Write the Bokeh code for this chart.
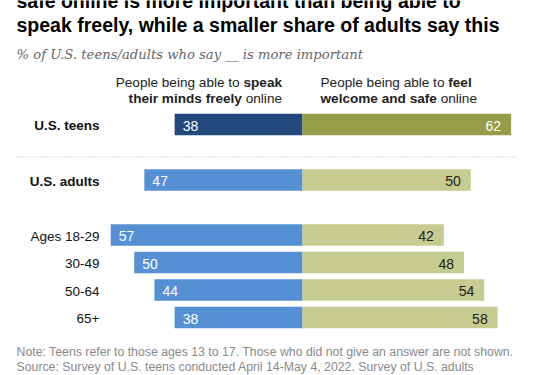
from bokeh.plotting import figure
from bokeh.models import Range1d, ColumnDataSource
from bokeh.core.properties import value
from bokeh.embed import file_html
from bokeh.resources import INLINE

# ---------------- data ----------------
groups = ["U.S. teens", "U.S. adults", "Ages 18-29", "30-49", "50-64", "65+"]
speak_freely = [38, 47, 57, 50, 44, 38]
welcome_safe = [62, 50, 42, 48, 54, 58]

title_lines = ["safe online is more important than being able to",
               "speak freely, while a smaller share of adults say this"]
subtitle = "% of U.S. teens/adults who say __ is more important"
note_lines = ["Note: Teens refer to those ages 13 to 17. Those who did not give an answer are not shown.",
              "Source: Survey of U.S. teens conducted April 14-May 4, 2022. Survey of U.S. adults"]

# ---------------- layout ----------------
W, H = 546, 375
CX = 302.0          # pixel of the zero line
S = 3.365           # pixels per percentage point
row_y = [124, 179.5, 234.5, 262, 289.5, 317]
bar_h = 21.5
FONT = "Liberation Sans"

left_colors = ["#22497D"] + ["#5590D5"] * 5
right_colors = ["#959D48"] + ["#C6CB8F"] * 5
right_label_colors = ["white"] + ["#222222"] * 5


def px(X):
    return (X - CX) / S


REG = {' ': 278, 'P': 667, 'e': 556, 'o': 556, 'p': 556, 'l': 222, 'b': 556, 'i': 222,
       'n': 556, 'g': 556, 'a': 556, 't': 278, 's': 500, 'k': 500, 'f': 278, 'r': 333,
       'm': 833, 'd': 556, 'y': 500, 'w': 722, 'c': 500, 'h': 556}
BLD = {' ': 278, 's': 556, 'p': 611, 'e': 556, 'a': 556, 'k': 556, 't': 333, 'h': 611,
       'i': 278, 'r': 389, 'm': 889, 'n': 611, 'd': 611, 'f': 333, 'l': 278, 'y': 556,
       'w': 778, 'c': 556, 'o': 611}


def tw(s, size, bold=False):
    tab = BLD if bold else REG
    return sum(tab.get(ch, 556) for ch in s) / 1000.0 * size


p = figure(width=W, height=H, output_backend="svg", toolbar_location=None,
           x_range=Range1d(px(0), px(W)), y_range=Range1d(H, 0),
           min_border=0, min_border_left=0, min_border_right=0,
           min_border_top=0, min_border_bottom=0)
p.xaxis.visible = False
p.yaxis.visible = False
p.grid.visible = False
p.outline_line_color = None
p.background_fill_color = "white"
p.border_fill_color = "white"

src = ColumnDataSource(dict(
    y=row_y,
    group=groups,
    speak=speak_freely,
    safe=welcome_safe,
    neg_speak=[-v for v in speak_freely],
    zero=[0] * len(groups),
    speak_txt=[str(v) for v in speak_freely],
    safe_txt=[str(v) for v in welcome_safe],
    lc=left_colors,
    rc=right_colors,
    rlc=right_label_colors,
))

p.hbar(y="y", left="neg_speak", right="zero", height=bar_h, fill_color="lc",
       line_color=None, source=src)
p.hbar(y="y", left="zero", right="safe", height=bar_h, fill_color="rc",
       line_color=None, source=src)

p.text(x="neg_speak", y="y", text="speak_txt", x_offset=8, y_offset=1,
       text_align="left", text_baseline="middle", text_color="white",
       text_font=value(FONT), text_font_size="14px", source=src)
p.text(x="safe", y="y", text="safe_txt", x_offset=-10, y_offset=1,
       text_align="right", text_baseline="middle", text_color="rlc",
       text_font=value(FONT), text_font_size="14px", source=src)

# row labels
bold_src = ColumnDataSource(dict(x=[px(99)] * 2, y=row_y[:2], t=groups[:2]))
reg_src = ColumnDataSource(dict(x=[px(99)] * 4, y=row_y[2:], t=groups[2:]))
p.text(x="x", y="y", text="t", source=bold_src, text_align="right", text_baseline="middle",
       y_offset=1, text_font=value(FONT), text_font_style="bold", text_font_size="13.5px",
       text_color="#111111")
p.text(x="x", y="y", text="t", source=reg_src, text_align="right", text_baseline="middle",
       y_offset=1, text_font=value(FONT), text_font_size="13.5px", text_color="#111111")

# separator
p.segment(x0=[px(16)], y0=[156.5], x1=[px(517)], y1=[156.5], line_color="#b0b0b0",
          line_width=1, line_dash="1 2")

# column headers (mixed bold / regular)
HS = 13.6
HC = "#222222"
LR = 281.5
RL = 320.0
b1, b2 = 81.5, 97.5


def txt(x, y, t, align="left", bold=False, size=HS, color=HC, italic=False, font=FONT):
    style = "bold" if bold else ("italic" if italic else "normal")
    p.text(x=[px(x)], y=[y], text=[t], text_align=align, text_baseline="middle",
           text_font=value(font), text_font_style=style, text_font_size=f"{size}px",
           text_color=color)


# left header, right-aligned
txt(LR, b1, "speak", "right", True)
txt(LR - tw("speak", HS, True) - tw(" ", HS), b1, "People being able to", "right")
txt(LR, b2, "online", "right")
txt(LR - tw("online", HS) - tw(" ", HS), b2, "their minds freely", "right", True)
# right header, left-aligned
txt(RL, b1, "People being able to", "left")
txt(RL + tw("People being able to ", HS), b1, "feel", "left", True)
txt(RL, b2, "welcome and safe", "left", True)
txt(RL + tw("welcome and safe ", HS, True), b2, "online", "left")

# title, subtitle, notes
txt(16, 0.5, title_lines[0], bold=True, size=19.5, color="#000000")
txt(16, 24, title_lines[1], bold=True, size=19.5, color="#000000")
txt(16, 53.5, subtitle, italic=True, size=13.2, color="#666666", font="DejaVu Serif")
txt(16, 351, note_lines[0], size=12.3, color="#8a8a8a")
txt(16, 366.5, note_lines[1], size=12.3, color="#8a8a8a")

open("out.html", "w").write(file_html(p, INLINE))
